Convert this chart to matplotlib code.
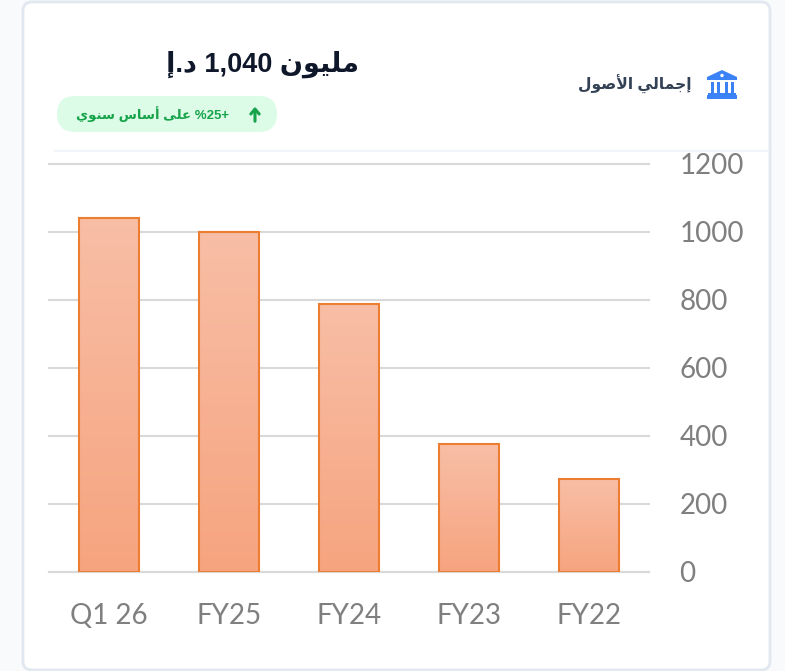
import numpy as np
import matplotlib
matplotlib.use("Agg")
import matplotlib.pyplot as plt
from matplotlib.patches import FancyBboxPatch, Polygon, Rectangle, Circle

# Chart data
periods = ["Q1 26", "FY25", "FY24", "FY23", "FY22"]
assets = [1040, 1000, 788, 376, 273]
y_ticks = [0, 200, 400, 600, 800, 1000, 1200]

title_unit = "د.إ"
title_value = "1,040"
title_word = "مليون"
card_label = "إجمالي الأصول"
badge_words = "على أساس سنوي"
badge_value = "+25%"

# Arabic presentation forms: isolated, final, initial, medial
forms = {
    "ا": "\ufe8d\ufe8e", "أ": "\ufe83\ufe84", "إ": "\ufe87\ufe88",
    "د": "\ufea9\ufeaa", "و": "\ufeed\ufeee", "ى": "\ufeef\ufef0",
    "ج": "\ufe9d\ufe9e\ufe9f\ufea0", "س": "\ufeb1\ufeb2\ufeb3\ufeb4",
    "ص": "\ufeb9\ufeba\ufebb\ufebc", "ع": "\ufec9\ufeca\ufecb\ufecc",
    "ل": "\ufedd\ufede\ufedf\ufee0", "م": "\ufee1\ufee2\ufee3\ufee4",
    "ن": "\ufee5\ufee6\ufee7\ufee8", "ي": "\ufef1\ufef2\ufef3\ufef4",
}
lam_alef = {"ا": "\ufefb\ufefc", "أ": "\ufef7\ufef8"}


def shape_word(word):
    # matplotlib has no Arabic shaping, so join the letters by hand
    out = []
    joined = False
    i = 0
    while i < len(word):
        ch = word[i]
        if ch not in forms:
            out.append(ch)
            joined = False
            i += 1
            continue
        if ch == "ل" and i + 1 < len(word) and word[i + 1] in lam_alef:
            out.append(lam_alef[word[i + 1]][1 if joined else 0])
            joined = False
            i += 2
            continue
        f = forms[ch]
        can_join_next = len(f) == 4 and i + 1 < len(word) and word[i + 1] in forms
        if joined and can_join_next:
            out.append(f[3])
        elif joined:
            out.append(f[1])
        elif can_join_next:
            out.append(f[2])
        else:
            out.append(f[0])
        joined = can_join_next
        i += 1
    return "".join(reversed(out))


def shape_text(text):
    return " ".join(shape_word(w) for w in reversed(text.split(" ")))


fig = plt.figure(figsize=(7.85, 6.71), dpi=100, facecolor="#f8fafc")

# Overlay in pixel coordinates for the card and header
bg = fig.add_axes([0, 0, 1, 1], zorder=0)
bg.set_xlim(0, 785)
bg.set_ylim(671, 0)
bg.axis("off")

bg.add_patch(FancyBboxPatch((23, 2), 747, 668, boxstyle="round,pad=0,rounding_size=9",
                            facecolor="white", edgecolor="#e2e8f0", linewidth=2))
bg.plot([55, 768], [151, 151], color="#f1f5f9", linewidth=1.5)

title_font = ["Liberation Sans", "DejaVu Sans"]
bg.text(262, 64, f"{shape_text(title_unit)} {title_value} {shape_text(title_word)}",
        ha="center", va="center", fontsize=19.5, fontweight="bold",
        color="#0f172a", family=title_font)

bg.add_patch(FancyBboxPatch((57, 96), 220, 36, boxstyle="round,pad=0,rounding_size=18",
                            facecolor="#dcfce7", edgecolor="none"))
bg.text(152, 114, f"{shape_text(badge_words)} {badge_value[-1]}{badge_value[1:-1]}{badge_value[0]}",
        ha="center", va="center", fontsize=9.5, fontweight="bold",
        color="#16a34a", family=title_font)
bg.annotate("", xy=(255, 104), xytext=(255, 124),
            arrowprops=dict(arrowstyle="->,head_width=0.3,head_length=0.35",
                            color="#16a34a", linewidth=2.2))

bg.text(692, 84, shape_text(card_label), ha="right", va="center", fontsize=11.2,
        fontweight="bold", color="#334155", family=title_font)

# Bank icon
icon_blue = "#3b82f6"
bg.add_patch(Polygon([[707, 77], [722, 70], [737, 77], [737, 80], [707, 80]],
                     closed=True, facecolor=icon_blue, edgecolor="none"))
bg.add_patch(Circle((722, 75.5), 1.7, facecolor="white", edgecolor="none"))
for px in [710.5, 716.5, 724.5, 730.5]:
    bg.add_patch(Rectangle((px, 82), 3, 10.5, facecolor=icon_blue, edgecolor="none"))
bg.add_patch(Rectangle((708, 93), 28, 2, facecolor=icon_blue, edgecolor="none"))
bg.add_patch(Rectangle((707, 95), 30, 3.5, facecolor=icon_blue, edgecolor="none"))

# Main chart
ax = fig.add_axes([49 / 785, 1 - 572 / 671, 600 / 785, 408 / 671], zorder=1)
ax.patch.set_alpha(0)
x = np.arange(len(periods))
bar_width = 0.5

# Each bar has its own vertical gradient
gradient = np.linspace(0, 1, 256).reshape(-1, 1)
cmap = matplotlib.colors.LinearSegmentedColormap.from_list("bar", ["#f8bea6", "#f6a47f"])
for xi, value in zip(x, assets):
    ax.imshow(gradient, extent=(xi - bar_width / 2, xi + bar_width / 2, 0, value),
              aspect="auto", cmap=cmap, origin="upper", zorder=2)
ax.bar(x, assets, width=bar_width, facecolor="none", edgecolor="#ed7d31",
       linewidth=1.5, zorder=3)

ax.set_xlim(-0.5, len(periods) - 0.5)
ax.set_ylim(0, 1200)
ax.set_xticks(x, periods)
ax.set_yticks(y_ticks)
ax.yaxis.tick_right()
ax.grid(axis="y", color="#d9d9d9", linewidth=1.5, zorder=1, clip_on=False)
ax.set_axisbelow(True)
ax.tick_params(axis="both", length=0, labelsize=20, labelcolor="#7f7f7f")
ax.tick_params(axis="x", pad=22)
ax.tick_params(axis="y", pad=22)
for label in ax.get_xticklabels() + ax.get_yticklabels():
    label.set_family("Lato")
for side in ["top", "left", "right"]:
    ax.spines[side].set_visible(False)
ax.spines["bottom"].set_color("#d9d9d9")
ax.spines["bottom"].set_linewidth(1.5)

fig.savefig("out.png", dpi=100, facecolor=fig.get_facecolor())
